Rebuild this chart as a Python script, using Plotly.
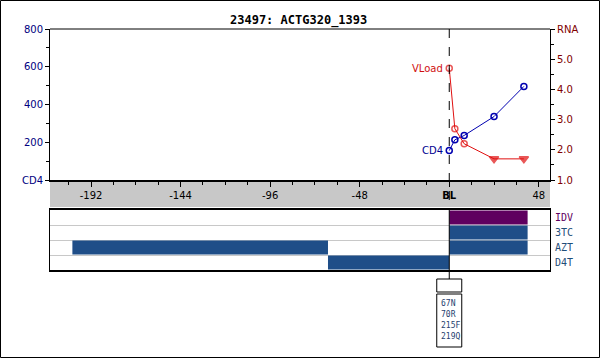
import plotly.graph_objects as go

W, H = 600, 358

# ---- data ----
title = "23497: ACTG320_1393"
cd4_days = [0, 3, 8, 24, 40]
cd4_vals = [156, 213, 236, 336, 496]
vl_days = [0, 3, 8, 24, 40]
vl_vals = [4.7, 2.7, 2.2, 1.7, 1.7]
vl_below = [False, False, False, True, True]

x_tickvals = [-192, -144, -96, -48, 0, 48]
x_ticktext = ["-192", "-144", "-96", "-48", "<b>BL</b>", "48"]
cd4_tickvals = [0, 200, 400, 600, 800]
cd4_ticktext = ["CD4", "200", "400", "600", "800"]
rna_tickvals = [1, 2, 3, 4, 5, 6]
rna_ticktext = ["1.0", "2.0", "3.0", "4.0", "5.0", "RNA"]

drugs = ["IDV", "3TC", "AZT", "D4T"]
drug_colors = ["#5f005f", "#1f4e88", "#1f4e88", "#1f4e88"]
drug_label_colors = ["#5f005f", "#1f4e79", "#1f4e79", "#1f4e79"]
drug_periods = {
    "IDV": [(0, 42)],
    "3TC": [(0, 42)],
    "AZT": [(-202, -65), (0, 42)],
    "D4T": [(-65, 0)],
}
mutations = ["67N", "70R", "215F", "219Q"]

# ---- helpers ----
def px(x):
    return x / W

def py(y):
    return 1 - y / H

FONT = "DejaVu Sans"
MONO = "DejaVu Sans Mono"
xr = [-214, 54]

fig = go.Figure()

fig.add_trace(go.Scatter(
    x=cd4_days, y=cd4_vals, mode="lines+markers", xaxis="x", yaxis="y",
    line=dict(color="#0000b0", width=1),
    marker=dict(symbol="circle-open", size=6, color="#0000b0", line=dict(width=1.5)),
    hoverinfo="skip", showlegend=False))

fig.add_trace(go.Scatter(
    x=vl_days, y=vl_vals, mode="lines+markers", xaxis="x", yaxis="y2",
    line=dict(color="#e01010", width=1),
    marker=dict(symbol=["triangle-down" if b else "circle-open" for b in vl_below],
                size=[8 if b else 6 for b in vl_below], color="#e01010",
                line=dict(width=1.5, color="#e01010")),
    hoverinfo="skip", showlegend=False))

nrows = len(drugs)
for i, d in enumerate(drugs):
    yc = nrows - i - 0.5
    for (s, e) in drug_periods[d]:
        fig.add_trace(go.Bar(
            y=[yc], x=[e - s], base=[s], orientation="h", width=0.92,
            marker=dict(color=drug_colors[i], line=dict(width=0)),
            xaxis="x2", yaxis="y3", hoverinfo="skip", showlegend=False))
    fig.add_annotation(x=px(553), xref="paper", xanchor="left", y=yc, yref="y3",
                       yanchor="middle", text=d, showarrow=False,
                       font=dict(family=MONO, size=10, color=drug_label_colors[i]))

shapes = []
# gray band under x axis
shapes.append(dict(type="rect", xref="paper", yref="paper", x0=px(50), x1=px(550),
                   y0=py(207), y1=py(180), fillcolor="#c8c8c8", line=dict(width=0), layer="below"))
# baseline dashed line
shapes.append(dict(type="line", xref="x", yref="paper", x0=0, x1=0, y0=py(29), y1=py(207),
                   line=dict(color="black", width=1, dash="dash")))
shapes.append(dict(type="line", xref="x", yref="paper", x0=0, x1=0, y0=py(210), y1=py(279),
                   line=dict(color="black", width=1)))
# mutation boxes
shapes.append(dict(type="rect", xref="x", yref="paper", x0=-6.7, x1=6.7, y0=py(292), y1=py(279),
                   line=dict(color="black", width=1), fillcolor="white"))
shapes.append(dict(type="rect", xref="x", yref="paper", x0=-6.7, x1=6.7, y0=py(347), y1=py(294),
                   line=dict(color="black", width=1), fillcolor="white"))
# outer frame
shapes.append(dict(type="rect", xref="paper", yref="paper", x0=px(0.5), x1=px(599.5),
                   y0=py(357.5), y1=py(0.5), line=dict(color="black", width=1)))
# top border of main plot
shapes.append(dict(type="line", xref="paper", yref="paper", x0=px(50), x1=px(550),
                   y0=py(29), y1=py(29), line=dict(color="black", width=1)))

for j, m in enumerate(mutations):
    fig.add_annotation(x=-5.6, xref="x", xanchor="left", y=py(303 + j * 11), yref="paper",
                       yanchor="middle", text=m, showarrow=False,
                       font=dict(family=MONO, size=8, color="#1f3f6f"))

fig.add_annotation(x=px(298.5), xref="paper", y=py(20), yref="paper", yanchor="middle",
                   xanchor="center", text="<b>" + title + "</b>",
                   showarrow=False, font=dict(family=MONO, size=12, color="black"))
fig.add_annotation(x=0, xref="x", y=vl_vals[0], yref="y2", xanchor="right", yanchor="middle",
                   xshift=-4, text="VLoad", showarrow=False,
                   font=dict(family=FONT, size=10, color="#d01010"))
fig.add_annotation(x=0, xref="x", y=cd4_vals[0], yref="y", xanchor="right", yanchor="middle",
                   xshift=-4, text="CD4", showarrow=False,
                   font=dict(family=FONT, size=10, color="#000090"))

fig.update_layout(
    template="none",
    width=W, height=H, margin=dict(l=0, r=0, t=0, b=0, pad=0, autoexpand=False),
    paper_bgcolor="white", plot_bgcolor="white", showlegend=False,
    barmode="overlay", shapes=shapes,
    font=dict(family=FONT, size=10, color="black"),
    xaxis=dict(domain=[px(50), px(550)], range=xr, anchor="y", automargin=False,
               tickvals=x_tickvals, ticktext=x_ticktext, ticks="outside", ticklen=5,
               tickcolor="black", showgrid=False, zeroline=False,
               showline=True, linecolor="black", linewidth=2, mirror=False,
               tickfont=dict(family=FONT, size=10, color="black"),
               minor=dict(dtick=12, tick0=0, ticks="outside", ticklen=3, tickcolor="black",
                          showgrid=False)),
    yaxis=dict(domain=[py(180), py(29)], range=[0, 800], anchor="x", automargin=False,
               tickvals=cd4_tickvals, ticktext=cd4_ticktext, ticks="outside", ticklen=4,
               tickcolor="black", showgrid=False, zeroline=False,
               showline=True, linecolor="black", linewidth=1,
               tickfont=dict(family=FONT, size=10, color="#000080"),
               minor=dict(dtick=100, ticks="outside", ticklen=3, tickcolor="black",
                          showgrid=False)),
    yaxis2=dict(domain=[py(180), py(29)], range=[1, 6], overlaying="y", side="right",
                anchor="x", automargin=False, tickvals=rna_tickvals, ticktext=rna_ticktext,
                ticks="outside", ticklen=4, tickcolor="black", showgrid=False, zeroline=False,
                showline=True, linecolor="black", linewidth=1,
                tickfont=dict(family=FONT, size=10, color="#800000"),
                minor=dict(dtick=0.5, ticks="outside", ticklen=3, tickcolor="black",
                           showgrid=False)),
    xaxis2=dict(domain=[px(50), px(550)], range=xr, anchor="y3", automargin=False,
                showticklabels=False, ticks="", showgrid=False, zeroline=False,
                showline=True, linecolor="black", linewidth=1.5, mirror=True),
    yaxis3=dict(domain=[py(270), py(210)], range=[0, nrows], anchor="x2", automargin=False,
                tickvals=list(range(1, nrows)), showticklabels=False, ticks="",
                showgrid=True, gridcolor="#c8c8c8", gridwidth=1, zeroline=False,
                showline=True, linecolor="black", linewidth=1, mirror=True),
)

fig.write_html("out.html", config={"displayModeBar": False},
               post_script="document.body.style.margin='0';document.body.style.overflow='hidden';")
